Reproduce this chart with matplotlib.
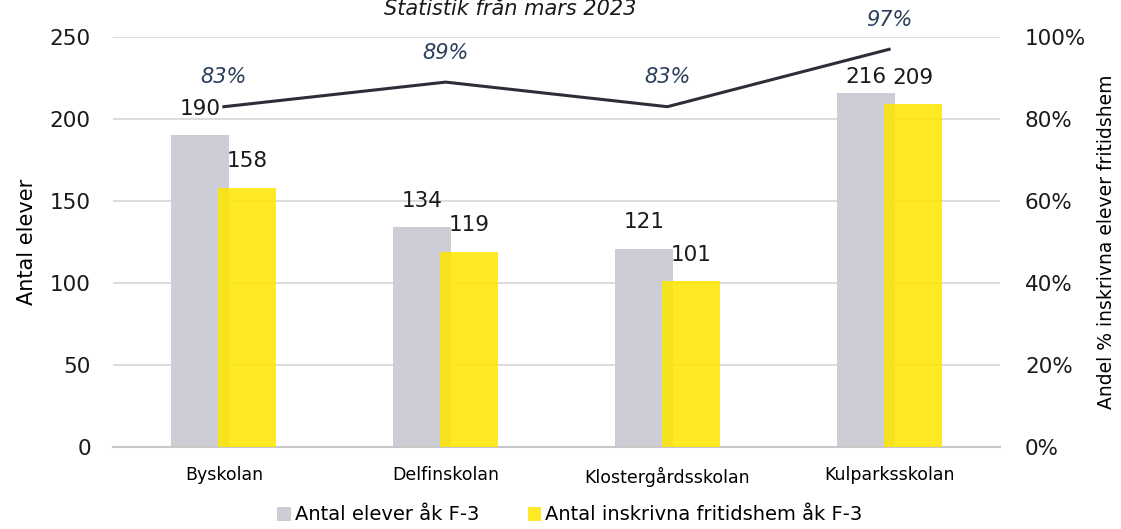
import matplotlib.pyplot as plt
import numpy as np

# data
skolor = ['Byskolan', 'Delfinskolan', 'Klostergårdsskolan', 'Kulparksskolan']
antal_elever = [190, 134, 121, 216]
antal_fritids = [158, 119, 101, 209]
andel = [0.83, 0.89, 0.83, 0.97]

grey = '#CDCDD6'
yellow = '#FFE600'
dark = '#2E2E38'
navy = '#2B3F5C'

plt.rcParams['font.family'] = ['DejaVu Sans']

fig = plt.figure(figsize=(11.21, 5.29), dpi=100)
ax = fig.add_axes([113 / 1121, 1 - 447 / 529, 887 / 1121, 410 / 529])

x = np.arange(len(skolor))
w = 0.262
off = 0.106
ax.bar(x - off, antal_elever, w, color=grey, zorder=2, label='Antal elever åk F-3')
ax.bar(x + off, antal_fritids, w, color=yellow, alpha=0.85, zorder=3,
       label='Antal inskrivna fritidshem åk F-3')

# Excel flyttade etiketten för Kulparksskolan lite närmare stapeln
grey_pad = [12, 12, 12, 4]
for i in range(len(skolor)):
    ax.annotate(str(antal_elever[i]), (x[i] - off, antal_elever[i]), xytext=(0, grey_pad[i]),
                textcoords='offset points', ha='center', va='bottom', fontsize=15.5,
                color='#1A1A1A')
    ax.annotate(str(antal_fritids[i]), (x[i] + off, antal_fritids[i]), xytext=(0, 12),
                textcoords='offset points', ha='center', va='bottom', fontsize=15.5,
                color='#1A1A1A')

ax.set_xlim(-0.5, 3.5)
ax.set_ylim(0, 250)
ax.set_yticks(range(0, 251, 50))
ax.set_xticks(x)
ax.set_xticklabels(skolor, fontsize=12.5)
ax.tick_params(axis='y', labelsize=15.5, length=0, pad=16, colors='#1A1A1A')
ax.tick_params(axis='x', length=0, pad=14)
ax.grid(axis='y', color='#D9D9D9', linewidth=1.3, zorder=0)
ax.set_axisbelow(True)
for s in ['top', 'right', 'left']:
    ax.spines[s].set_visible(False)
ax.spines['bottom'].set_color('#C8C8C8')
ax.spines['bottom'].set_linewidth(1.5)
ax.set_ylabel('Antal elever', fontsize=15, labelpad=9)

ax2 = ax.twinx()
ax2.plot(x, andel, color=dark, linewidth=2.2, zorder=4)
for i in range(len(skolor)):
    ax2.annotate(f'{round(andel[i] * 100)}%', (x[i], andel[i]), xytext=(0, 14),
                 textcoords='offset points', ha='center', va='bottom', fontsize=15,
                 style='italic', color=navy)
ax2.set_ylim(0, 1.0)
ax2.set_yticks(np.arange(0, 1.01, 0.2))
ax2.set_yticklabels([f'{int(v * 100)}%' for v in np.arange(0, 1.01, 0.2)])
ax2.tick_params(axis='y', labelsize=15.5, length=0, pad=18, colors='#1A1A1A')
for s in ['top', 'right', 'left', 'bottom']:
    ax2.spines[s].set_visible(False)
ax2.set_ylabel('Andel % inskrivna elever fritidshem', fontsize=13.5, labelpad=8)

fig.text(510 / 1121, 1 - 15 / 529, 'Statistik från mars 2023', ha='center', va='baseline',
         fontsize=15, style='italic', color='#1A1A1A')

h1, l1 = ax.get_legend_handles_labels()
fig.legend(h1, l1, loc='center', bbox_to_anchor=(570 / 1121, 1 - 515 / 529), ncol=2,
           frameon=False, prop={'size': 14}, handlelength=0.7,
           handleheight=0.7, handletextpad=0.2, columnspacing=2.5)

fig.savefig('out.png', dpi=100)
